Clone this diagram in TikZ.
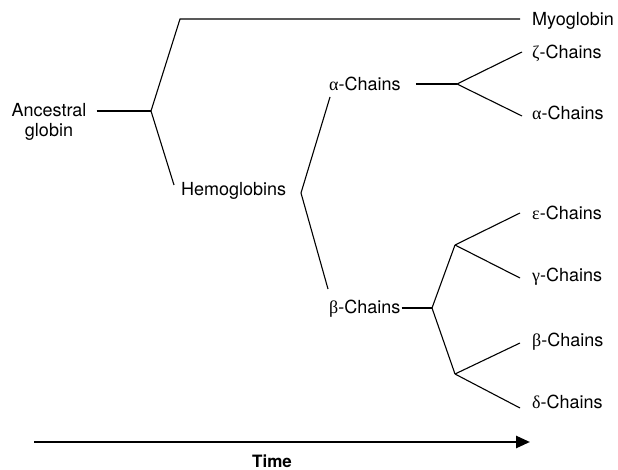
\documentclass[tikz,border=0pt]{standalone}
\usepackage{fontspec}
\setmainfont{TeX Gyre Heros}
\newfontfamily\grk{Liberation Serif}
\usetikzlibrary{arrows.meta}
\newcommand{\gr}[1]{{\grk #1}}
\begin{document}
\begin{tikzpicture}[x=1pt,y=-1pt,
  lbl/.style={inner sep=0pt, font=\fontsize{18}{20}\selectfont, text height=13pt, text depth=0pt},
  leaf/.style={lbl, anchor=west},
  branch/.style={line width=1.1pt},
  timeline/.style={line width=2.6pt, -{Triangle[length=14pt,width=12pt]}}
]
\useasboundingbox (0,0) rectangle (618,470);

% labels
\node[inner sep=0pt, anchor=north, align=center, font=\fontsize{18}{20}\selectfont] (anc) at (49,103) {Ancestral\\globin};
\node[leaf] (myo)  at (532,19)  {Myoglobin};
\node[leaf] (hemo) at (181,189) {Hemoglobins};
\node[leaf] (ach)  at (329,84)  {\gr{α}-Chains};
\node[leaf] (bch)  at (329,307) {\gr{β}-Chains};
\node[leaf] (zeta) at (532,52)  {\gr{ζ}-Chains};
\node[leaf] (alph) at (532,113) {\gr{α}-Chains};
\node[leaf] (eps)  at (532,213) {\gr{ε}-Chains};
\node[leaf] (gam)  at (532,275) {\gr{γ}-Chains};
\node[leaf] (bet)  at (532,340) {\gr{β}-Chains};
\node[leaf] (del)  at (532,402) {\gr{δ}-Chains};

% branch points
\coordinate (j1) at (151,111);
\coordinate (c1) at (180,19);
\coordinate (j2) at (301,193);
\coordinate (j3) at (457,84);
\coordinate (j4) at (432,308);
\coordinate (j5) at (455,245);
\coordinate (j6) at (455,374);

% tree
\draw[branch] ([xshift=10pt]anc.east |- j1) -- (j1);
\draw[branch] (j1) -- (c1) -- ([xshift=-12pt]myo.west);
\draw[branch] (j1) -- ([xshift=-7pt,yshift=4pt]hemo.west);
\draw[branch] (j2) -- ([xshift=1pt,yshift=-13pt]ach.west);
\draw[branch] (j2) -- ([xshift=-1pt,yshift=18pt]bch.west);
\draw[branch] ([xshift=15pt]ach.east) -- (j3);
\draw[branch] (j3) -- ([xshift=-10pt]zeta.west);
\draw[branch] (j3) -- ([xshift=-10pt,yshift=-3pt]alph.west);
\draw[branch] ([xshift=1pt]bch.east |- j4) -- (j4);
\draw[branch] (j4) -- (j5);
\draw[branch] (j4) -- (j6);
\draw[branch] (j5) -- ([xshift=-12pt]eps.west);
\draw[branch] (j5) -- ([xshift=-12pt,yshift=-3pt]gam.west);
\draw[branch] (j6) -- ([xshift=-12pt,yshift=-3pt]bet.west);
\draw[branch] (j6) -- ([xshift=-12pt,yshift=-6pt]del.west);

% time axis
\coordinate (t0) at (34,442);
\coordinate (t1) at (530,442);
\draw[timeline] (t0) -- (t1);
\node[font=\fontsize{17}{20}\selectfont\bfseries, inner sep=0pt] (time) at (272,461) {Time};
\end{tikzpicture}
\end{document}
